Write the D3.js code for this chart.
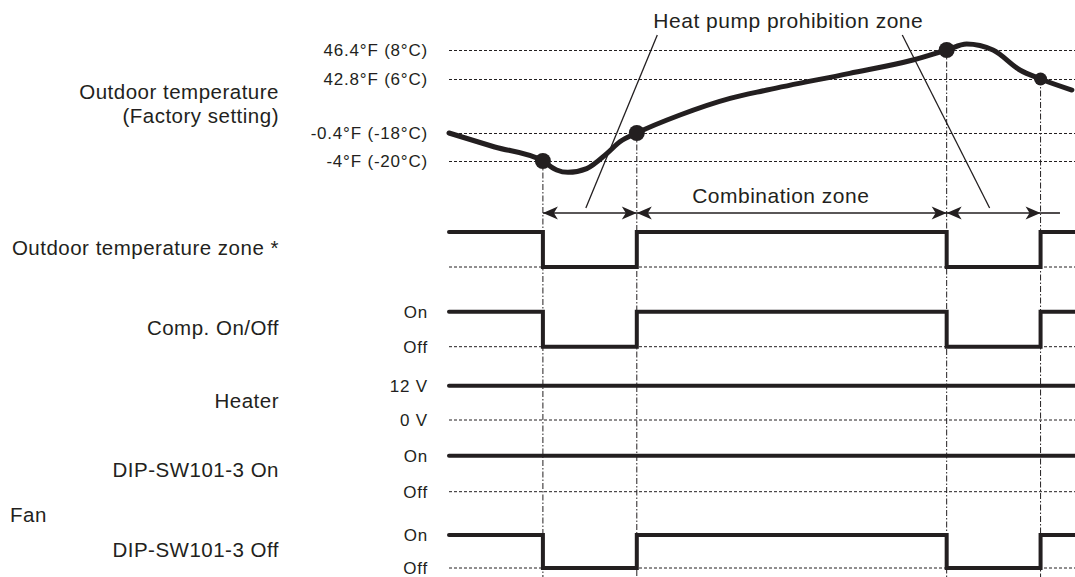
<!DOCTYPE html>
<html>
<head>
<meta charset="utf-8">
<script src="https://cdn.jsdelivr.net/npm/d3@7"></script>
<style>
body{margin:0;background:#fff;}
svg{display:block;font-family:"Liberation Sans",Arial,sans-serif;}
</style>
</head>
<body>
<div id="chart"></div>
<script>
(function(){

// ---- data ----
// time axis is schematic, 0..100
const tBounds = [0, 15, 30, 79.5, 94.5, 100];
const switchTimes = [15, 30, 79.5, 94.5];
const switchTemps = [-20, -18, 8, 6];

const tempTicks = [8, 6, -18, -20];
const tempTickLabels = ["46.4°F (8°C)", "42.8°F (6°C)", "-0.4°F (-18°C)", "-4°F (-20°C)"];

// outdoor temperature curve (t, °C)
const tempT = [0, 7.3, 15, 17.2, 19, 22, 25.2, 27.3, 30, 36.9, 44.9, 50.8, 64, 74.1, 79.5, 82.7, 86.9, 91.2, 94.5, 99.5];
const tempC = [-18, -19, -20, -20.64, -20.81, -20.54, -19.47, -18.62, -18, -10, -2.6, 1.1, 6.39, 7.31, 8, 8.41, 8, 6.62, 6, 1.1];

const rowLabels = ["Outdoor temperature zone *", "Comp. On/Off", "Heater", "DIP-SW101-3 On", "DIP-SW101-3 Off"];
const levelLabels = [["", ""], ["Off", "On"], ["0 V", "12 V"], ["Off", "On"], ["Off", "On"]];
const zoneLevels = [1, 0, 1, 0, 1];
const compLevels = [1, 0, 1, 0, 1];
const heaterLevels = [1, 1, 1, 1, 1];
const fanDipOnLevels = [1, 1, 1, 1, 1];
const fanDipOffLevels = [1, 0, 1, 0, 1];
const rowLevels = [zoneLevels, compLevels, heaterLevels, fanDipOnLevels, fanDipOffLevels];

// zones for the arrow row
const zoneSpans = [[15, 30], [30, 79.5], [79.5, 94.5], [94.5, 97.6]];

// ---- layout ----
const width = 1075, height = 577;
const ink = "#231f20";
const rowLow = [267, 346.7, 420, 491.7, 568];
const rowHigh = [232, 311.7, 385.7, 455.7, 535];
const rowBase = [255, 335, 408, 476.7, 556.7];
const arrowY = 213;

const svg = d3.select("#chart").append("svg")
.attr("width", width)
.attr("height", height);

const x = d3.scaleLinear().domain([0, 100]).range([449, width]);
const yTemp = d3.scaleLinear().domain([-20, -18, 6, 8]).range([161, 133, 79, 50]);

// arrowheads
const defs = svg.append("defs");
defs.append("marker").attr("id", "ahEnd")
.attr("markerUnits", "userSpaceOnUse")
.attr("viewBox", "-16 -7 17 14").attr("refX", 0).attr("refY", 0)
.attr("markerWidth", 17).attr("markerHeight", 14).attr("orient", "auto")
.append("path").attr("d", "M0,0L-15,-6.5L-11,0L-15,6.5Z").attr("fill", ink);
defs.append("marker").attr("id", "ahStart")
.attr("markerUnits", "userSpaceOnUse")
.attr("viewBox", "-1 -7 17 14").attr("refX", 0).attr("refY", 0)
.attr("markerWidth", 17).attr("markerHeight", 14).attr("orient", "auto")
.append("path").attr("d", "M0,0L15,-6.5L11,0L15,6.5Z").attr("fill", ink);

// temperature grid + labels through an axis
const tAxis = svg.append("g")
.attr("transform", "translate(449,0)")
.call(d3.axisLeft(yTemp)
  .tickValues(tempTicks)
  .tickFormat((d, i) => tempTickLabels[i])
  .tickSize(-(width - 449))
  .tickPadding(21));
tAxis.select(".domain").remove();
tAxis.selectAll(".tick line")
.attr("stroke", ink).attr("stroke-width", 1).attr("stroke-dasharray", "3,2");
tAxis.selectAll(".tick text")
.attr("fill", ink).attr("font-size", "17px").attr("letter-spacing", "0.8px")
.attr("font-family", "Liberation Sans, Arial, sans-serif");

// low level dotted lines of the signal rows
svg.append("g").selectAll("line")
.data(rowLow)
.join("line")
.attr("x1", x(0)).attr("x2", width)
.attr("y1", d => d).attr("y2", d => d)
.attr("stroke", ink).attr("stroke-width", 1).attr("stroke-dasharray", "3,2");

// vertical dash-dot lines
svg.append("g").selectAll("line")
.data(switchTimes)
.join("line")
.attr("x1", d => x(d)).attr("x2", d => x(d))
.attr("y1", (d, i) => yTemp(switchTemps[i])).attr("y2", height)
.attr("stroke", ink).attr("stroke-width", 1).attr("stroke-dasharray", "6,2,1.5,2");

// temperature curve
const tempData = tempT.map((t, i) => [t, tempC[i]]);
svg.append("path")
.datum(tempData)
.attr("fill", "none")
.attr("stroke", ink)
.attr("stroke-width", 5)
.attr("stroke-linecap", "round")
.attr("d", d3.line().x(d => x(d[0])).y(d => yTemp(d[1])).curve(d3.curveMonotoneX));

svg.append("g").selectAll("circle")
.data(switchTimes)
.join("circle")
.attr("cx", d => x(d))
.attr("cy", (d, i) => yTemp(switchTemps[i]))
.attr("r", (d, i) => i === 3 ? 6.5 : 8)
.attr("fill", ink);

// signals
rowLevels.forEach((levels, r) => {
  const y = d3.scaleLinear().domain([0, 1]).range([rowLow[r], rowHigh[r]]);
  const pts = levels.map((v, i) => [tBounds[i], v]);
  pts.push([tBounds[tBounds.length - 1], levels[levels.length - 1]]);
  svg.append("path")
  .datum(pts)
  .attr("fill", "none")
  .attr("stroke", ink)
  .attr("stroke-width", 4)
  .attr("stroke-linecap", "round")
  .attr("d", d3.line().x(d => x(d[0])).y(d => y(d[1])).curve(d3.curveStepAfter));

  svg.append("text")
  .attr("x", 279).attr("y", rowBase[r])
  .attr("text-anchor", "end")
  .attr("font-size", "20.5px").attr("letter-spacing", "0.5px")
  .attr("fill", ink)
  .text(rowLabels[r]);

  levelLabels[r].forEach((lab, k) => {
    if (!lab) return;
    svg.append("text")
    .attr("x", 428).attr("y", y(k))
    .attr("dy", "0.35em")
    .attr("text-anchor", "end")
    .attr("font-size", "17px").attr("letter-spacing", "0.8px")
    .attr("fill", ink)
    .text(lab);
  });
});

// left labels
svg.append("text")
.attr("x", 10).attr("y", 521.7)
.attr("font-size", "20.5px").attr("letter-spacing", "0.5px")
.attr("fill", ink).text("Fan");

svg.append("text")
.attr("x", 279).attr("y", 99)
.attr("text-anchor", "end")
.attr("font-size", "20.5px").attr("letter-spacing", "0.5px")
.attr("fill", ink).text("Outdoor temperature");
svg.append("text")
.attr("x", 279).attr("y", 123)
.attr("text-anchor", "end")
.attr("font-size", "20.5px").attr("letter-spacing", "0.5px")
.attr("fill", ink).text("(Factory setting)");

// zone arrows (last one runs on past the edge of the drawing)
svg.append("g").selectAll("line")
.data(zoneSpans)
.join("line")
.attr("x1", d => x(d[0])).attr("x2", d => x(d[1]))
.attr("y1", arrowY).attr("y2", arrowY)
.attr("stroke", ink).attr("stroke-width", 1.6)
.attr("marker-start", (d, i) => i < 3 ? "url(#ahStart)" : null)
.attr("marker-end", (d, i) => i < 3 ? "url(#ahEnd)" : null);

svg.append("text")
.attr("x", x(53)).attr("y", 203)
.attr("text-anchor", "middle")
.attr("font-size", "21px").attr("letter-spacing", "0.5px")
.attr("fill", ink).text("Combination zone");

// heat pump prohibition annotation
const hpX = x(54.2);
svg.append("text")
.attr("x", hpX).attr("y", 28)
.attr("text-anchor", "middle")
.attr("font-size", "21px").attr("letter-spacing", "0.5px")
.attr("fill", ink).text("Heat pump prohibition zone");

const prohibited = [zoneSpans[0], zoneSpans[2]];
svg.append("g").selectAll("line")
.data(prohibited)
.join("line")
.attr("x1", (d, i) => i === 0 ? hpX - 131 : hpX + 114)
.attr("y1", 35)
.attr("x2", d => x((d[0] + d[1]) / 2) - 4)
.attr("y2", 208)
.attr("stroke", ink).attr("stroke-width", 1.3);

})();
</script>
</body>
</html>
